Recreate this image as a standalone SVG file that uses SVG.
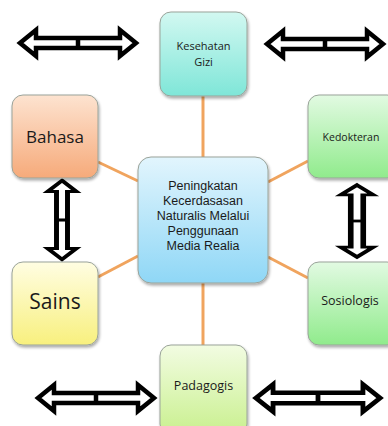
<svg xmlns="http://www.w3.org/2000/svg" width="388" height="426" viewBox="0 0 388 426">
<style>
.box{stroke:#9aa39a;stroke-width:1;filter:url(#sh)}
.t{font-family:"Open Sans","Liberation Sans",sans-serif;fill:#1a1a1a;text-anchor:middle}
.c{font-family:"Liberation Sans",sans-serif;fill:#1a1a1a;text-anchor:middle}
.con{stroke:#f0a45e;stroke-width:3;fill:none}
.arr{fill:#fff;stroke:#000;stroke-width:4.5;stroke-linejoin:miter}
</style>
<defs>
<filter id="sh" x="-10%" y="-10%" width="130%" height="130%"><feGaussianBlur in="SourceAlpha" stdDeviation="1.5"/><feOffset dx="1" dy="2"/><feComponentTransfer><feFuncA type="linear" slope="0.35"/></feComponentTransfer><feMerge><feMergeNode/><feMergeNode in="SourceGraphic"/></feMerge></filter>
<linearGradient id="gTeal" x1="0" y1="0" x2="0" y2="1"><stop offset="0" stop-color="#d2f8f1"/><stop offset="1" stop-color="#7fe6d8"/></linearGradient>
<linearGradient id="gOrange" x1="0" y1="0" x2="0" y2="1"><stop offset="0" stop-color="#fde3d0"/><stop offset="1" stop-color="#f6aa7a"/></linearGradient>
<linearGradient id="gBlue" x1="0" y1="0" x2="0" y2="1"><stop offset="0" stop-color="#e2f5fd"/><stop offset="1" stop-color="#8fd7f6"/></linearGradient>
<linearGradient id="gGreen" x1="0" y1="0" x2="0" y2="1"><stop offset="0" stop-color="#e2fae2"/><stop offset="1" stop-color="#90eb8c"/></linearGradient>
<linearGradient id="gYellow" x1="0" y1="0" x2="0" y2="1"><stop offset="0" stop-color="#fffde2"/><stop offset="1" stop-color="#f8f07e"/></linearGradient>
<linearGradient id="gLime" x1="0" y1="0" x2="0" y2="1"><stop offset="0" stop-color="#f2fce2"/><stop offset="1" stop-color="#c9f08e"/></linearGradient>
<g id="harrow"><path class="arr" d="M-58,0 L-42,-13 L-42,-5 L42,-5 L42,-13 L58,0 L42,13 L42,5 L-42,5 L-42,13 Z"/><path d="M0,-5 V5" stroke="#000" stroke-width="4.5"/></g>
</defs>
<rect width="388" height="426" fill="#fff"/>
<g id="connectors">
<line class="con" x1="203" y1="157" x2="203" y2="96"/>
<line class="con" x1="203" y1="283" x2="203" y2="345"/>
<line class="con" x1="98" y1="162" x2="138" y2="181"/>
<line class="con" x1="98" y1="277" x2="138" y2="256"/>
<line class="con" x1="268" y1="182" x2="308" y2="161"/>
<line class="con" x1="268" y1="257" x2="308" y2="278"/>
</g>
<g id="arrows">
<use href="#harrow" transform="translate(78,43)"/>
<use href="#harrow" transform="translate(325,44)"/>
<use href="#harrow" transform="translate(96,398)"/>
<use href="#harrow" transform="translate(318,398) scale(1.07,1.05)"/>
<use href="#harrow" transform="translate(62,220) rotate(90) scale(0.68,1.1)"/>
<use href="#harrow" transform="translate(357,221) rotate(90) scale(0.62,1.25)"/>
</g>
<g id="kesehatan"><rect class="box" x="160" y="12" width="87" height="84" rx="11" fill="url(#gTeal)"/><text class="t" font-size="11" x="203.5" y="50">Kesehatan</text><text class="t" font-size="11" x="203.5" y="66">Gizi</text></g>
<g id="bahasa"><rect class="box" x="12" y="95" width="86" height="83" rx="11" fill="url(#gOrange)"/><text class="t" font-size="17" x="55" y="143">Bahasa</text></g>
<g id="center"><rect class="box" x="138" y="157" width="130" height="126" rx="13" fill="url(#gBlue)"/>
<text class="c" font-size="12.5">
<tspan x="203" y="190">Peningkatan</tspan><tspan x="203" y="205">Kecerdasasan</tspan><tspan x="203" y="220">Naturalis Melalui</tspan><tspan x="203" y="235">Penggunaan</tspan><tspan x="203" y="250">Media  Realia</tspan></text></g>
<g id="kedokteran"><rect class="box" x="308" y="95" width="90" height="83" rx="11" fill="url(#gGreen)"/><text class="t" font-size="10.5" x="351" y="141">Kedokteran</text></g>
<g id="sains"><rect class="box" x="12" y="262" width="86" height="83" rx="11" fill="url(#gYellow)"/><text class="t" font-size="21" x="55" y="309">Sains</text></g>
<g id="sosiologis"><rect class="box" x="308" y="262" width="90" height="83" rx="11" fill="url(#gGreen)"/><text class="t" font-size="12.5" x="350" y="305">Sosiologis</text></g>
<g id="padagogis"><rect class="box" x="160" y="345" width="87" height="90" rx="11" fill="url(#gLime)"/><text class="t" font-size="12.5" x="203.5" y="390">Padagogis</text></g>
</svg>
